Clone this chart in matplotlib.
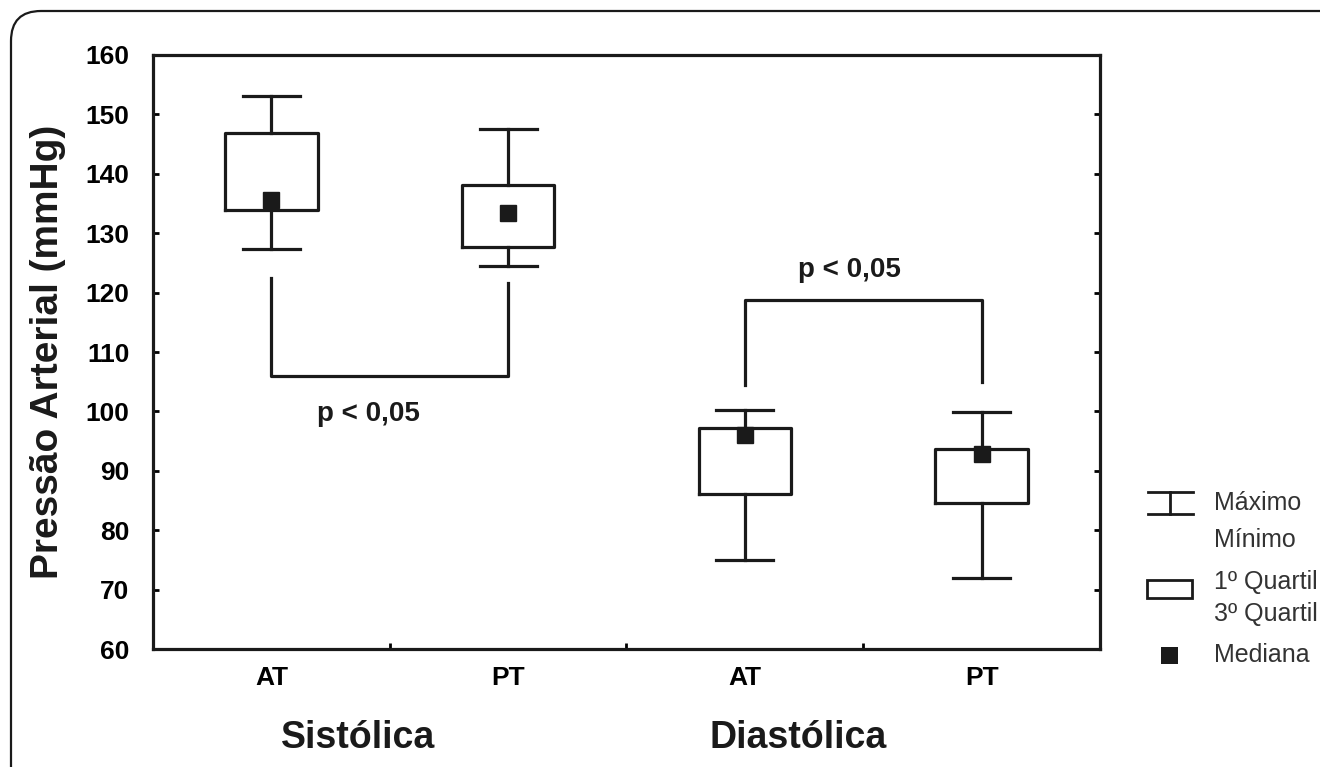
import matplotlib
matplotlib.use("Agg")
import matplotlib.pyplot as plt
from matplotlib.patches import FancyBboxPatch, Rectangle
from matplotlib.lines import Line2D
from matplotlib.transforms import IdentityTransform

plt.rcParams['font.family'] = ['Liberation Sans', 'DejaVu Sans']

# data
labels = ['AT', 'PT', 'AT', 'PT']
groups = ['Sistólica', 'Diastólica']
maximo = [153.1, 147.5, 100.2, 99.9]
q3 = [146.9, 138.1, 97.2, 93.7]
mediana = [135.6, 133.4, 96.0, 92.8]
q1 = [133.9, 127.7, 86.1, 84.6]
minimo = [127.3, 124.5, 75.0, 72.0]

pos = list(range(len(labels)))

fig = plt.figure(figsize=(13.2, 7.67), dpi=100)
ax = fig.add_axes([0.1159, 0.1538, 0.7174, 0.7745])

stats = []
for i in pos:
    stats.append({'med': mediana[i], 'q1': q1[i], 'q3': q3[i],
                  'whislo': minimo[i], 'whishi': maximo[i], 'fliers': []})

lw = 2.3
ax.bxp(stats, positions=pos, widths=0.39, capwidths=0.24, showfliers=False,
       boxprops=dict(color='#1a1a1a', linewidth=lw),
       whiskerprops=dict(color='#1a1a1a', linewidth=lw),
       capprops=dict(color='#1a1a1a', linewidth=lw),
       medianprops=dict(linestyle='none'))
ax.plot(pos, mediana, 's', color='#1a1a1a', markersize=12, zorder=5)

# significance brackets
ax.plot([0, 0, 1, 1], [122.5, 106, 106, 121.6], color='#1a1a1a', lw=lw)
ax.text(0.41, 99.5, 'p < 0,05', ha='center', va='center', fontsize=20,
        fontweight='bold', color='#1a1a1a')
ax.plot([2, 2, 3, 3], [104.4, 118.8, 118.8, 105], color='#1a1a1a', lw=lw)
ax.text(2.44, 123.8, 'p < 0,05', ha='center', va='center', fontsize=20,
        fontweight='bold', color='#1a1a1a')

ax.set_xlim(-0.5, 3.5)
ax.set_ylim(60, 160)
ax.set_yticks(range(60, 161, 10))
ax.set_xticks(pos)
ax.set_xticklabels(labels, fontsize=19, fontweight='bold')
ax.set_xticks([0.5, 1.5, 2.5], minor=True)
ax.tick_params(axis='x', which='major', length=0, pad=12)
ax.tick_params(axis='x', which='minor', direction='in', length=4, width=2)
ax.tick_params(axis='y', direction='in', length=4, width=2, right=True,
               labelsize=19, pad=17)
for t in ax.get_yticklabels():
    t.set_fontweight('bold')
for s in ax.spines.values():
    s.set_linewidth(2.3)
    s.set_color('#1a1a1a')

ax.set_ylabel('Pressão Arterial (mmHg)', fontsize=28, fontweight='bold',
              labelpad=14, color='#1a1a1a')

# group names below the axis
fig.text(358 / 1320, 1 - 738 / 767, groups[0], ha='center', va='center',
         fontsize=27, fontweight='bold', color='#1a1a1a')
fig.text(798 / 1320, 1 - 738 / 767, groups[1], ha='center', va='center',
         fontsize=27, fontweight='bold', color='#1a1a1a')

# hand drawn legend on the right
def fx(px):
    return px / 1320

def fy(py):
    return 1 - py / 767

lc = '#1a1a1a'
fig.add_artist(Line2D([fx(1148), fx(1193)], [fy(492), fy(492)], color=lc, lw=2))
fig.add_artist(Line2D([fx(1148), fx(1193)], [fy(514), fy(514)], color=lc, lw=2))
fig.add_artist(Line2D([fx(1170), fx(1170)], [fy(492), fy(514)], color=lc, lw=2))
fig.add_artist(Rectangle((fx(1147), fy(598)), fx(1192) - fx(1147), fy(580) - fy(598),
                         transform=fig.transFigure, fill=False, ec=lc, lw=2))
fig.add_artist(Rectangle((fx(1161), fy(664)), fx(1178) - fx(1161), fy(647) - fy(664),
                         transform=fig.transFigure, fc=lc, ec=lc, lw=0))
tc = '#333333'
for txt, py in [('Máximo', 503), ('Mínimo', 540), ('1º Quartil', 582),
                ('3º Quartil', 614), ('Mediana', 655)]:
    fig.text(fx(1214), fy(py), txt, ha='left', va='center', fontsize=18, color=tc)

# rounded outer frame (runs off the right and bottom edge)
frame = FancyBboxPatch((11, -30), 1340, 756 + 30, boxstyle='round,pad=0,rounding_size=30',
                       transform=IdentityTransform(), fill=False, ec='#1a1a1a', lw=1.6)
fig.add_artist(frame)

fig.savefig('out.png', dpi=100)
